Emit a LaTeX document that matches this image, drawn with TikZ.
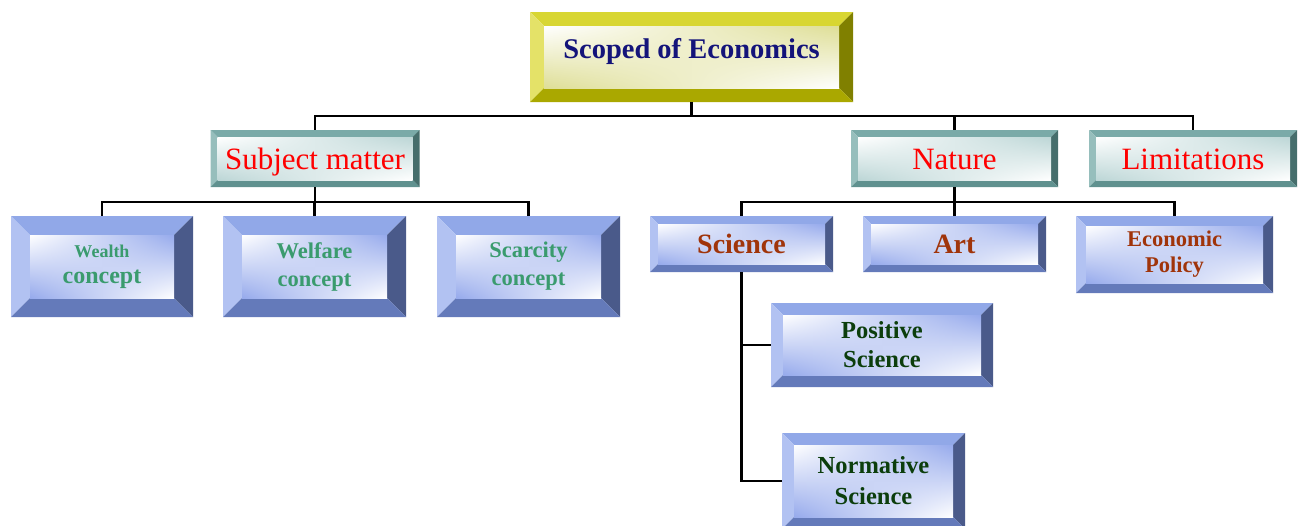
\documentclass[tikz,border=0pt]{standalone}
\usepackage{fontspec}
\setmainfont{Liberation Serif}
\usetikzlibrary{positioning, calc, shadings}

\definecolor{goldtop}{RGB}{216,214,50}
\definecolor{goldleft}{RGB}{228,226,104}
\definecolor{goldright}{RGB}{128,128,0}
\definecolor{goldbottom}{RGB}{170,168,0}
\definecolor{goldtint}{RGB}{222,222,150}
\definecolor{tealtop}{RGB}{122,170,168}
\definecolor{tealleft}{RGB}{150,190,188}
\definecolor{tealright}{RGB}{70,110,108}
\definecolor{tealbottom}{RGB}{96,145,143}
\definecolor{tealtint}{RGB}{188,214,214}
\definecolor{bluetop}{RGB}{145,168,232}
\definecolor{blueleft}{RGB}{178,194,242}
\definecolor{blueright}{RGB}{74,90,138}
\definecolor{bluebottom}{RGB}{100,122,186}
\definecolor{bluetint}{RGB}{150,170,236}
\definecolor{titleblue}{RGB}{20,20,122}
\definecolor{leafgreen}{RGB}{58,155,110}
\definecolor{rust}{RGB}{160,52,10}
\definecolor{darkleaf}{RGB}{12,62,12}

\begin{document}
\begin{tikzpicture}
    [
        x=1pt, y=-1pt, inner sep=0pt, align=center,
        bevel box/.style n args={6}{
            path picture={
                \coordinate (o1) at (path picture bounding box.north west);
                \coordinate (o2) at (path picture bounding box.north east);
                \coordinate (o3) at (path picture bounding box.south east);
                \coordinate (o4) at (path picture bounding box.south west);
                \coordinate (i1) at ($(o1)+(#1,-#1)$);
                \coordinate (i2) at ($(o2)+(-#1,-#1)$);
                \coordinate (i3) at ($(o3)+(-#1,#1)$);
                \coordinate (i4) at ($(o4)+(#1,#1)$);
                \fill[#2] (o1) -- (o2) -- (i2) -- (i1) -- cycle;
                \fill[#3] (o1) -- (i1) -- (i4) -- (o4) -- cycle;
                \fill[#4] (o2) -- (o3) -- (i3) -- (i2) -- cycle;
                \fill[#5] (o4) -- (i4) -- (i3) -- (o3) -- cycle;
                \shade[upper left=white, upper right=#6, lower left=#6, lower right=white] (i1) rectangle (i3);
            }
        },
        gold_box/.style={bevel box={#1}{goldtop}{goldleft}{goldright}{goldbottom}{goldtint}},
        teal_box/.style={bevel box={#1}{tealtop}{tealleft}{tealright}{tealbottom}{tealtint}},
        blue_box/.style={bevel box={#1}{bluetop}{blueleft}{blueright}{bluebottom}{bluetint}},
        gold_box/.default=14pt, teal_box/.default=7pt, blue_box/.default=19pt,
        head_text/.style={font=\fontsize{31}{33}\selectfont, text=red, text height=27pt, text depth=6pt},
        link/.style={line width=2.1pt, color=black},
    ]
        \useasboundingbox (0,0) rectangle (1301,525);

        % root
        \node[gold_box, minimum width=323pt, minimum height=90pt, text depth=17pt,
              font=\fontsize{28.5}{30}\selectfont\bfseries, text=titleblue] (scope) at (691.5,57) {Scoped of Economics};

        % second level
        \node[teal_box, head_text, minimum width=209pt, minimum height=57pt] (subject) at (315,158.5) {Subject matter};
        \node[teal_box, head_text, minimum width=207pt, minimum height=57pt] (nature) at (954.5,158.5) {Nature};
        \node[teal_box, head_text, minimum width=208pt, minimum height=57pt] (limits) at (1193,158.5) {Limitations};

        % subject matter
        \node[blue_box, minimum width=182pt, minimum height=101pt, text=leafgreen, font=\fontsize{24}{26}\selectfont\bfseries] (wealth) at (102,266.5)
            {{\fontsize{18}{20}\selectfont Wealth}\\concept};
        \node[blue_box, minimum width=183pt, minimum height=101pt, text=leafgreen, font=\fontsize{22.5}{28}\selectfont\bfseries] (welfare) at (314.5,266.5)
            {Welfare\\concept};
        \node[blue_box, minimum width=183pt, minimum height=101pt, text=leafgreen, font=\fontsize{22.5}{28}\selectfont\bfseries] (scarcity) at (528.5,266.5)
            {Scarcity\\concept};

        % nature
        \node[blue_box=8pt, minimum width=183pt, minimum height=56pt, text=rust, font=\fontsize{28}{30}\selectfont\bfseries] (science) at (741.5,244) {Science};
        \node[blue_box=8pt, minimum width=183pt, minimum height=56pt, text=rust, font=\fontsize{28}{30}\selectfont\bfseries] (art) at (954.5,244) {Art};
        \node[blue_box=10pt, minimum width=197pt, minimum height=77pt, text=rust, font=\fontsize{22.5}{26}\selectfont\bfseries] (policy) at (1174.5,254.5)
            {Economic\\Policy};

        % science
        \node[blue_box=12pt, minimum width=222pt, minimum height=84pt, text=darkleaf, font=\fontsize{24.5}{29}\selectfont\bfseries] (positive) at (882,345)
            {Positive\\Science};
        \node[blue_box=12pt, minimum width=183pt, minimum height=96pt, text=darkleaf, font=\fontsize{24.5}{31}\selectfont\bfseries] (normative) at (873.5,481)
            {Normative\\Science};

        % connectors
        \draw[link] (scope.south) -- ++(0,14) -| (subject);
        \draw[link] (scope.south) -- ++(0,14) -| (nature);
        \draw[link] (scope.south) -- ++(0,14) -| (limits);
        \draw[link] (subject.south) -- ++(0,15) -| (wealth);
        \draw[link] (subject.south) -- ++(0,15) -| (welfare);
        \draw[link] (subject.south) -- ++(0,15) -| (scarcity);
        \draw[link] (nature.south) -- ++(0,15) -| (science);
        \draw[link] (nature.south) -- ++(0,15) -| (art);
        \draw[link] (nature.south) -- ++(0,15) -| (policy);
        \draw[link] (science.south) |- (positive.west);
        \draw[link] (science.south) |- (normative.west);
    \end{tikzpicture}
\end{document}
